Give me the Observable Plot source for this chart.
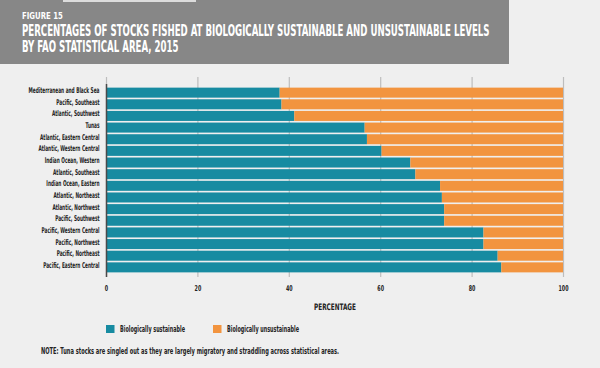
<!DOCTYPE html>
<html>
<head>
<meta charset="utf-8">
<script src="https://cdn.jsdelivr.net/npm/d3@7"></script>
<script src="https://cdn.jsdelivr.net/npm/@observablehq/plot@0.6"></script>
<style>
  html, body { margin: 0; padding: 0; background: #efefef; }
  #page { position: relative; width: 600px; height: 368px; background: #efefef; overflow: hidden;
    font-family: "DejaVu Sans Condensed", "Liberation Sans Narrow", sans-serif; }
  #titlebox { position: absolute; left: 0; top: 0; width: 509px; height: 64px; background: #878787; }
  #tab { position: absolute; left: 63px; top: 0; width: 133px; height: 2px; background: #dcdcdc; }
  #chart { position: absolute; left: 0; top: 66px; }
  #overlay { position: absolute; left: 0; top: 0; pointer-events: none; }
  #overlay text { font-family: "DejaVu Sans Condensed", "Liberation Sans Narrow", sans-serif; font-weight: bold; }
</style>
</head>
<body>
<div id="page">
  <div id="titlebox"></div>
  <div id="tab"></div>
  <div id="chart"></div>
  <svg id="overlay" width="600" height="368" xmlns="http://www.w3.org/2000/svg">
    <text id="fig" fill="#fff">FIGURE 15</text>
    <text id="title" fill="#fff"><tspan id="t1">PERCENTAGES OF STOCKS FISHED AT BIOLOGICALLY SUSTAINABLE AND UNSUSTAINABLE LEVELS</tspan><tspan id="t2">BY FAO STATISTICAL AREA, 2015</tspan></text>
    <g id="legend"></g>
    <text x="41" y="353.5" font-size="9" fill="#222" textLength="298" lengthAdjust="spacingAndGlyphs">NOTE: Tuna stocks are singled out as they are largely migratory and straddling across statistical areas.</text>
  </svg>
</div>
<script>
const areas = [
  "Mediterranean and Black Sea", "Pacific, Southeast", "Atlantic, Southwest", "Tunas",
  "Atlantic, Eastern Central", "Atlantic, Western Central", "Indian Ocean, Western", "Atlantic, Southeast",
  "Indian Ocean, Eastern", "Atlantic, Northeast", "Atlantic, Northwest", "Pacific, Southwest",
  "Pacific, Western Central", "Pacific, Northwest", "Pacific, Northeast", "Pacific, Eastern Central"
];
const sustainable =   [38.0, 38.4, 41.2, 56.6, 57.1, 60.3, 66.6, 67.7, 73.1, 73.5, 74.0, 74.0, 82.6, 82.6, 85.7, 86.5];
const unsustainable = [62.0, 61.6, 58.8, 43.4, 42.9, 39.7, 33.4, 32.3, 26.9, 26.5, 26.0, 26.0, 17.4, 17.4, 14.3, 13.5];
const statuses = ["Biologically sustainable", "Biologically unsustainable"];
const colors = ["#178ba1", "#f2943f"];
const xTicks = [0, 20, 40, 60, 80, 100];

const rows = [];
areas.forEach((a, i) => {
  rows.push({area: a, status: statuses[0], value: sustainable[i], order: 0});
  rows.push({area: a, status: statuses[1], value: unsustainable[i], order: 1});
});

const chart = Plot.plot({
  width: 600,
  height: 250,
  marginLeft: 106,
  marginRight: 37,
  marginTop: 11,
  marginBottom: 39,
  style: {background: "transparent", fontFamily: '"DejaVu Sans Condensed", "Liberation Sans Narrow", sans-serif', fontWeight: "bold", color: "#222"},
  x: {domain: [0, 100], ticks: xTicks, label: "PERCENTAGE", labelAnchor: "center", labelArrow: "none"},
  y: {domain: areas, padding: 0.14, round: false, insetTop: 9, insetBottom: 3, label: null},
  color: {domain: statuses, range: colors},
  marks: [
    Plot.ruleX(xTicks, {stroke: "#bdbdbd", strokeWidth: 1.2}),
    Plot.barX(rows, Plot.stackX({x: "value", y: "area", fill: "status", order: "order"})),
    Plot.ruleX([0], {stroke: "#4a4a4a", strokeWidth: 1.5, insetTop: 7}),
    Plot.axisX({ticks: xTicks, tickSize: 0, tickPadding: 13, fontSize: 8, label: "PERCENTAGE", labelAnchor: "center", labelArrow: "none", labelOffset: 32}),
    Plot.axisY({tickSize: 0, tickPadding: 7, fontSize: 8, label: null})
  ]
});
document.getElementById("chart").appendChild(chart);

// condense axis text horizontally (no narrow font installed)
function squeeze(el, s) {
  const x = +el.getAttribute("x") || 0, y = +el.getAttribute("y") || 0;
  const t = el.getAttribute("transform") || "";
  el.setAttribute("transform", `${t} translate(${x},${y}) scale(${s},1)`);
  el.setAttribute("x", 0); el.setAttribute("y", 0);
}
const yTexts = [...chart.querySelectorAll('g[aria-label="y-axis tick label"] text')];
const ref = yTexts.find(t => t.textContent === areas[0]) || yTexts[0];
const sy = 71 / ref.getComputedTextLength();
yTexts.forEach(t => squeeze(t, sy));
const xTexts = [...chart.querySelectorAll('g[aria-label="x-axis tick label"] text')];
const x100 = xTexts.find(t => t.textContent === "100") || xTexts[0];
const sx = 10 / x100.getComputedTextLength();
xTexts.forEach(t => squeeze(t, sx));
const xl = chart.querySelector('g[aria-label="x-axis label"] text');
if (xl) { xl.setAttribute("font-size", 9); squeeze(xl, 42 / xl.getComputedTextLength()); }

// title: shrink font so natural width fits, then stretch vertically back to the cap height
function fitTitle(textEl, measureEl, fs, w, x, y) {
  textEl.setAttribute("font-size", fs);
  const L = measureEl.getComputedTextLength();
  const f = fs * w / L;
  textEl.setAttribute("font-size", f);
  textEl.setAttribute("transform", `translate(${x},${y}) scale(1,${fs / f})`);
  return fs / f;
}
const figEl = document.getElementById("fig");
fitTitle(figEl, figEl, 9.5, 41, 22, 19.3);
const titleEl = document.getElementById("title");
const k = fitTitle(titleEl, document.getElementById("t1"), 15, 468, 22, 36);
const t1 = document.getElementById("t1"), t2 = document.getElementById("t2");
t1.setAttribute("x", 0); t1.setAttribute("y", 0);
t2.setAttribute("x", 0); t2.setAttribute("y", 15.7 / k);

// legend
const lg = d3.select("#legend");
const legX = [106, 213], legW = [65, 72];
statuses.forEach((s, i) => {
  lg.append("rect").attr("x", legX[i]).attr("y", 325).attr("width", 8.5).attr("height", 8).attr("fill", colors[i]);
  lg.append("text").attr("x", legX[i] + 14).attr("y", 331.5).attr("font-size", 8.7).attr("fill", "#222")
    .attr("textLength", legW[i]).attr("lengthAdjust", "spacingAndGlyphs").text(s);
});
</script>
</body>
</html>
